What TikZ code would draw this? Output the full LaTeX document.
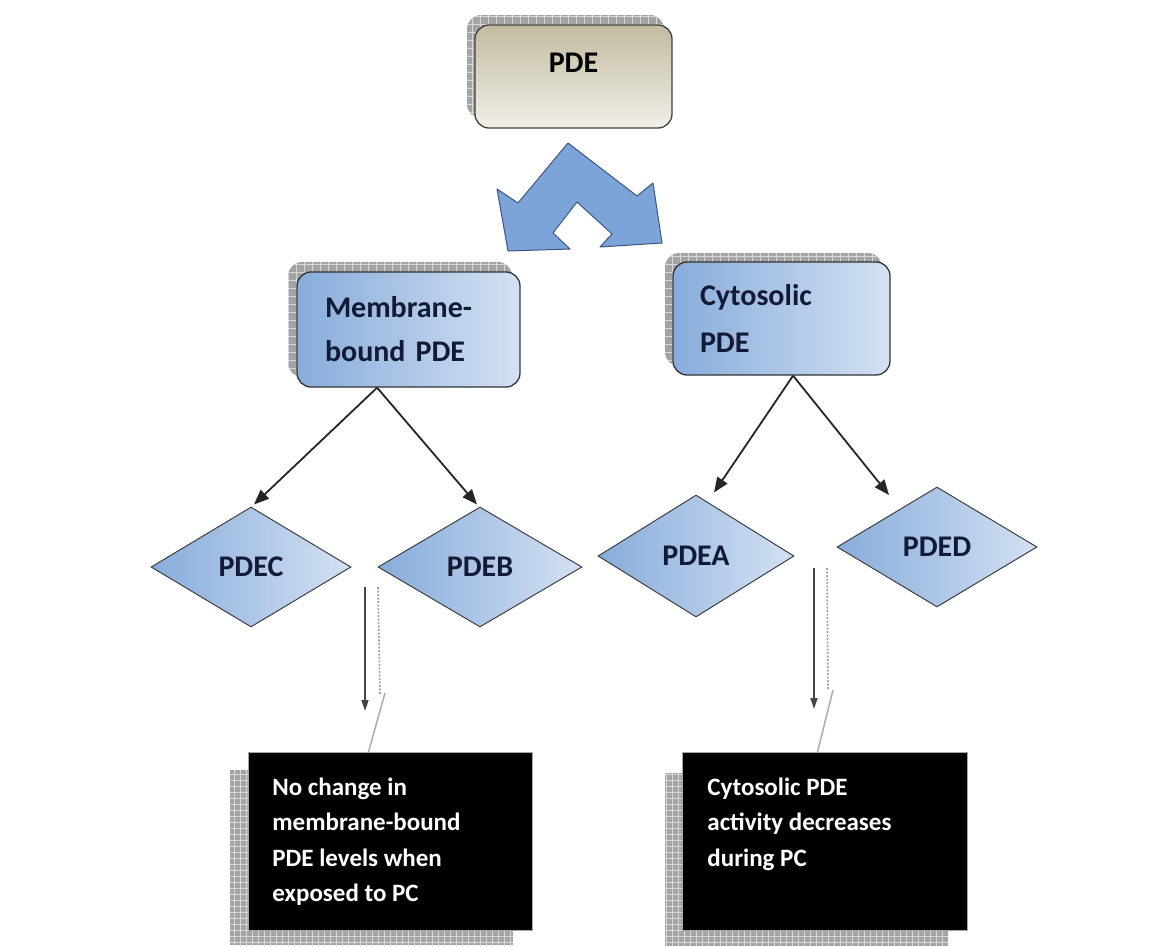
\documentclass[tikz,border=0pt]{standalone}
\usepackage{fontspec}
\setmainfont{Carlito}
\usetikzlibrary{shapes.geometric,arrows.meta,calc}
\definecolor{bluedark}{HTML}{88ACDB}
\definecolor{bluelight}{HTML}{D3E1F3}
\definecolor{tandark}{HTML}{C2BBA0}
\definecolor{tanlight}{HTML}{F1F0E8}
\definecolor{chev}{HTML}{7DA4D8}
\definecolor{chevline}{HTML}{3D5680}
\definecolor{navy}{HTML}{131A35}
\definecolor{shadowgray}{HTML}{A4A4A4}
\definecolor{gridgray}{HTML}{D8D8D8}
\newcommand{\boxfont}{\fontsize{30}{44}\selectfont\bfseries}
\newcommand{\noteFont}{\fontsize{25}{35.3}\selectfont\bfseries}
\begin{document}
\begin{tikzpicture}[x=1pt,y=-1pt,
  bluebox/.style={draw=black!80, line width=1.3pt, rounded corners=14pt,
    left color=bluedark, right color=bluelight, text=navy, font=\boxfont,
    align=left, inner ysep=0pt},
  tanbox/.style={draw=black!75, line width=1.3pt, rounded corners=14pt,
    top color=tandark, bottom color=tanlight, text=black, font=\boxfont,
    inner sep=0pt, minimum width=197pt, minimum height=103pt,
    text height=20pt, text depth=28pt},
  diam/.style={diamond, draw=black!75, line width=1pt, left color=bluedark,
    right color=bluelight, text=navy, font=\boxfont, inner sep=0pt,
    minimum width=200pt, minimum height=120pt},
  blackbox/.style={fill=black, draw=gray!70, line width=0.8pt, text=white,
    font=\noteFont, inner ysep=0pt, anchor=north west},
  conn/.style={draw=black!85, line width=1.8pt,
    -{Triangle[length=15pt,width=12pt]}},
  dline/.style={draw=gray!55!black, line width=1.6pt,
    -{Triangle[length=11pt,width=7pt]}},
  dotline/.style={draw=gray!75, line width=1.6pt, dash pattern=on 2pt off 1.5pt},
  slantline/.style={draw=gray!65, line width=1.5pt},
  shadowbg/.style={fill=shadowgray},
  shadowgrid/.style={draw=gridgray, line width=0.8pt}
]
\useasboundingbox (0,0) rectangle (1167,946);
\fill[white] (0,0) rectangle (1167,946);

% ---- shadows (hatched grey) ----
\begin{scope}
  \clip[rounded corners=14pt] (467,15) rectangle (664,118);
  \fill[shadowbg] (467,15) rectangle (664,118);
  \draw[shadowgrid, step=8pt] (460,10) grid (670,125);
\end{scope}
\begin{scope}
  \clip[rounded corners=14pt] (288,262) rectangle (512,377);
  \fill[shadowbg] (288,262) rectangle (512,377);
  \draw[shadowgrid, step=8pt] (280,255) grid (520,385);
\end{scope}
\begin{scope}
  \clip[rounded corners=14pt] (665,253) rectangle (882,366);
  \fill[shadowbg] (665,253) rectangle (882,366);
  \draw[shadowgrid, step=8pt] (660,245) grid (890,370);
\end{scope}
\begin{scope}
  \clip (230,770) rectangle (513,945);
  \fill[shadowbg] (230,770) rectangle (513,945);
  \draw[shadowgrid, step=6pt] (228,768) grid (516,946);
\end{scope}
\begin{scope}
  \clip (665,773) rectangle (948,946);
  \fill[shadowbg] (665,773) rectangle (948,946);
  \draw[shadowgrid, step=6pt] (660,770) grid (950,946);
\end{scope}

% ---- top box ----
\node[tanbox] (pde) at (573.5,76.5) {PDE};

% ---- split arrow ----
\filldraw[fill=chev, draw=chevline, line width=1pt, line join=round]
  (568,143) -- (637,196) -- (653,183) -- (662,243) -- (600,247) -- (612,234)
  -- (577,202) -- (553,233) -- (570,249) -- (508,251) -- (497,189)
  -- (518,203) -- cycle;

% ---- second level ----
\node[bluebox, inner xsep=28pt, text width=167pt, minimum height=115pt]
  (mem) at (408.5,329.5) {Membrane-\\bound PDE};
\node[bluebox, inner xsep=27pt, text width=163pt, minimum height=113pt]
  (cyt) at (781.5,318.5) {Cytosolic\\[3pt]PDE};

% ---- diamonds ----
\node[diam] (pdec) at (251,567) {PDEC};
\node[diam, minimum width=204pt] (pdeb) at (480,567) {PDEB};
\node[diam, minimum width=196pt, minimum height=122pt] (pdea) at (696,556) {PDEA};
\node[diam] (pded) at (937,547) {PDED};

% ---- connectors ----
\coordinate (mb) at ($(mem.south west)!0.36!(mem.south east)$);
\coordinate (cb) at ($(cyt.south west)!0.553!(cyt.south east)$);
\coordinate (tipa) at ([xshift=18pt,yshift=2pt]pdea.north);
\coordinate (tipd) at (889,495);
\draw[conn] (mb) -- ([xshift=3pt,yshift=2pt]pdec.north);
\draw[conn] (mb) -- ([xshift=-3pt,yshift=2pt]pdeb.north);
\draw[conn] (cb) -- (tipa);
\draw[conn] (cb) -- (tipd);

% ---- notes ----
\node[blackbox, inner xsep=24pt] (note1) at (248,752)
  {\parbox[c][178pt][t]{236pt}{\raggedright\rule{0pt}{43pt}No change in\\membrane-bound\\PDE levels when\\exposed to PC}};
\node[blackbox, inner xsep=25pt] (note2) at (682,752)
  {\parbox[c][178pt][t]{235pt}{\raggedright\rule{0pt}{43pt}Cytosolic PDE\\activity decreases\\during PC}};

% ---- broken block arrows ----
\coordinate (l1a) at (365,587);
\coordinate (l1b) at (365,711);
\coordinate (l2a) at (378,587);
\coordinate (l2b) at (380,694);
\coordinate (l3a) at (385,693);
\coordinate (l3b) at ($(note1.north west)!0.423!(note1.north east)$);
\draw[dline] (l1a) -- (l1b);
\draw[dotline] (l2a) -- (l2b);
\draw[slantline] (l3a) -- (l3b);

\coordinate (r1a) at (814,568);
\coordinate (r1b) at (814,709);
\coordinate (r2a) at (827,568);
\coordinate (r2b) at (828,689);
\coordinate (r3a) at (833,690);
\coordinate (r3b) at ($(note2.north west)!0.474!(note2.north east)$);
\draw[dline] (r1a) -- (r1b);
\draw[dotline] (r2a) -- (r2b);
\draw[slantline] (r3a) -- (r3b);
\end{tikzpicture}
\end{document}
